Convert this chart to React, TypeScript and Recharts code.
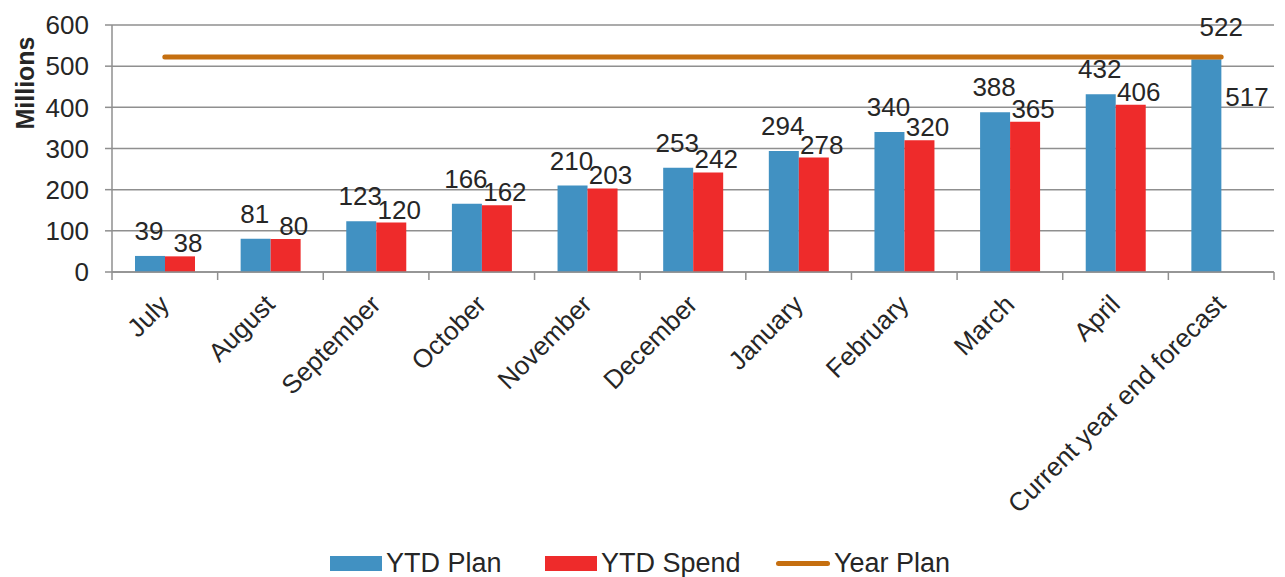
import { Bar, CartesianGrid, ComposedChart, LabelList, Line, XAxis, YAxis } from 'recharts';

const months = ['July', 'August', 'September', 'October', 'November', 'December', 'January', 'February', 'March', 'April', 'Current year end forecast'];
const ytdPlan = [39, 81, 123, 166, 210, 253, 294, 340, 388, 432, 517];
const ytdSpend: (number | null)[] = [38, 80, 120, 162, 203, 242, 278, 320, 365, 406, null];
const yearPlan = [522, 522, 522, 522, 522, 522, 522, 522, 522, 522, 522];
const yTicks = [0, 100, 200, 300, 400, 500, 600];

const chartData = months.map((name, i) => ({
  name,
  plan: ytdPlan[i],
  spend: ytdSpend[i],
  yearPlan: yearPlan[i]
}));

const W = 1285;
const H = 577;
const yAxisW = 112;
const marginRight = 11;
const band = (W - yAxisW - marginRight) / months.length;
const font = '"Liberation Sans", Arial, sans-serif';
const fs = 26;
const ink = '#262626';
const blue = '#4191C2';
const red = '#EE2B2B';
const orange = '#C56F10';
const grey = '#8f8f8f';

const XTick = props => {
  const { x, y, payload, index } = props;
  return (
    <g>
      <line x1={x - band / 2} y1={y} x2={x - band / 2} y2={y + 8} stroke={grey} strokeWidth={1.5} />
      {index === months.length - 1 && (
        <line x1={x + band / 2} y1={y} x2={x + band / 2} y2={y + 8} stroke={grey} strokeWidth={1.5} />
      )}
      <text
        x={x + 6}
        y={y + 34}
        textAnchor="end"
        transform={`rotate(-45, ${x + 6}, ${y + 34})`}
        fontSize={fs}
        fontFamily={font}
        fill={ink}
      >
        {payload.value}
      </text>
    </g>
  );
};

const planLabel = props => {
  const { x, y, width, value, index } = props;
  if (value == null) return null;
  if (index === months.length - 1) {
    return (
      <text x={x + width + 4} y={y + 47} fontSize={fs} fontFamily={font} fill={ink}>
        {value}
      </text>
    );
  }
  return (
    <text x={x + width / 2 - 1} y={y - 16} textAnchor="middle" fontSize={fs} fontFamily={font} fill={ink}>
      {value}
    </text>
  );
};

const spendLabel = props => {
  const { x, y, width, value } = props;
  if (value == null) return null;
  return (
    <text x={x + width / 2 + 8} y={y - 4} textAnchor="middle" fontSize={fs} fontFamily={font} fill={ink}>
      {value}
    </text>
  );
};

const yearPlanLabel = props => {
  const { x, y, value, index } = props;
  if (index !== months.length - 1) return null;
  return (
    <text x={x} y={y - 21} textAnchor="middle" fontSize={fs} fontFamily={font} fill={ink}>
      {value}
    </text>
  );
};

const legendItems = [
  { label: 'YTD Plan', color: blue, kind: 'rect', left: 330 },
  { label: 'YTD Spend', color: red, kind: 'rect', left: 545 },
  { label: 'Year Plan', color: orange, kind: 'line', left: 776 }
];

export default function App() {
  return (
    <div style={{ position: 'absolute', left: 0, top: 0, width: W, height: H, background: '#fff' }}>
      <ComposedChart
        width={W}
        height={H}
        data={chartData}
        margin={{ top: 25, right: marginRight, left: 0, bottom: 0 }}
        barGap={0}
      >
        <CartesianGrid vertical={false} stroke={grey} strokeWidth={1.5} />
        <XAxis
          dataKey="name"
          height={305}
          interval={0}
          tickLine={false}
          tickSize={0}
          tickMargin={0}
          axisLine={{ stroke: grey, strokeWidth: 1.5 }}
          tick={<XTick />}
        />
        <YAxis
          width={yAxisW}
          domain={[0, 600]}
          ticks={yTicks}
          interval={0}
          tickSize={7}
          tickMargin={16}
          tickLine={{ stroke: grey, strokeWidth: 1.5 }}
          axisLine={{ stroke: grey, strokeWidth: 1.5 }}
          tick={{ fontSize: fs, fontFamily: font, fill: ink }}
          label={{
            value: 'Millions',
            angle: -90,
            position: 'insideTopLeft',
            content: () => (
              <text
                x={0}
                y={0}
                transform="translate(34, 83) rotate(-90)"
                textAnchor="middle"
                fontSize={25}
                fontWeight="bold"
                fontFamily={font}
                fill={ink}
              >
                Millions
              </text>
            )
          }}
        />
        <Bar dataKey="plan" name="YTD Plan" fill={blue} barSize={30} isAnimationActive={false}>
          <LabelList dataKey="plan" content={planLabel} />
        </Bar>
        <Bar dataKey="spend" name="YTD Spend" fill={red} barSize={30} isAnimationActive={false}>
          <LabelList dataKey="spend" content={spendLabel} />
        </Bar>
        <Line
          dataKey="yearPlan"
          name="Year Plan"
          stroke={orange}
          strokeWidth={5}
          strokeLinecap="round"
          dot={false}
          activeDot={false}
          isAnimationActive={false}
        >
          <LabelList dataKey="yearPlan" content={yearPlanLabel} />
        </Line>
      </ComposedChart>
      {legendItems.map(item => (
        <div
          key={item.label}
          style={{
            position: 'absolute',
            left: item.left,
            top: 547,
            display: 'flex',
            alignItems: 'center',
            fontFamily: font,
            fontSize: 27,
            color: ink,
            lineHeight: '32px'
          }}
        >
          {item.kind === 'rect' ? (
            <span style={{ display: 'inline-block', width: 52, height: 15, background: item.color, marginRight: 4 }} />
          ) : (
            <span
              style={{ display: 'inline-block', width: 54, height: 5, borderRadius: 3, background: item.color, marginRight: 4 }}
            />
          )}
          <span>{item.label}</span>
        </div>
      ))}
    </div>
  );
}
